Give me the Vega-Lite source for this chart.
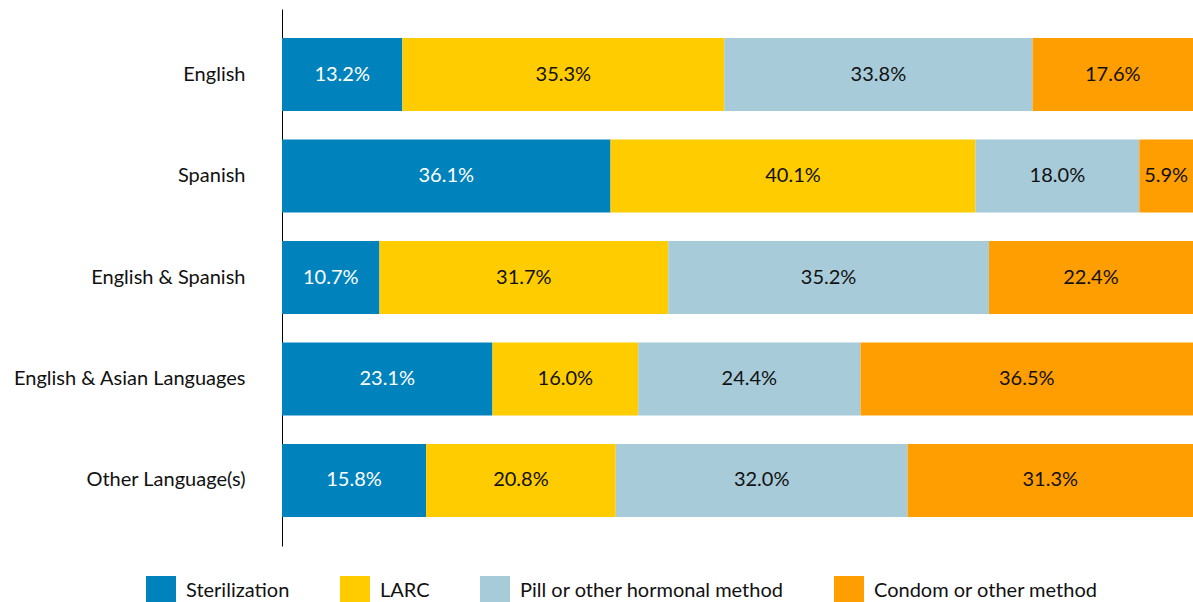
{
  "$schema": "https://vega.github.io/schema/vega-lite/v6.json",
  "width": 911,
  "height": 537,
  "autosize": {"type": "none"},
  "padding": {"left": 282, "top": 9, "right": 0, "bottom": 56},
  "background": "white",
  "config": {"view": {"stroke": null}, "font": "Lato"},
  "data": {"values": [
    {"lang": "English", "method": "Sterilization", "pct": 13.2},
    {"lang": "English", "method": "LARC", "pct": 35.3},
    {"lang": "English", "method": "Pill or other hormonal method", "pct": 33.8},
    {"lang": "English", "method": "Condom or other method", "pct": 17.6},
    {"lang": "Spanish", "method": "Sterilization", "pct": 36.1},
    {"lang": "Spanish", "method": "LARC", "pct": 40.1},
    {"lang": "Spanish", "method": "Pill or other hormonal method", "pct": 18.0},
    {"lang": "Spanish", "method": "Condom or other method", "pct": 5.9},
    {"lang": "English & Spanish", "method": "Sterilization", "pct": 10.7},
    {"lang": "English & Spanish", "method": "LARC", "pct": 31.7},
    {"lang": "English & Spanish", "method": "Pill or other hormonal method", "pct": 35.2},
    {"lang": "English & Spanish", "method": "Condom or other method", "pct": 22.4},
    {"lang": "English & Asian Languages", "method": "Sterilization", "pct": 23.1},
    {"lang": "English & Asian Languages", "method": "LARC", "pct": 16.0},
    {"lang": "English & Asian Languages", "method": "Pill or other hormonal method", "pct": 24.4},
    {"lang": "English & Asian Languages", "method": "Condom or other method", "pct": 36.5},
    {"lang": "Other Language(s)", "method": "Sterilization", "pct": 15.8},
    {"lang": "Other Language(s)", "method": "LARC", "pct": 20.8},
    {"lang": "Other Language(s)", "method": "Pill or other hormonal method", "pct": 32.0},
    {"lang": "Other Language(s)", "method": "Condom or other method", "pct": 31.3}
  ]},
  "transform": [
    {"calculate": "indexof(['Sterilization','LARC','Pill or other hormonal method','Condom or other method'], datum.method)", "as": "ord"},
    {"stack": "pct", "groupby": ["lang"], "sort": [{"field": "ord", "order": "ascending"}], "offset": "normalize", "as": ["x0", "x1"]},
    {"calculate": "(datum.x0 + datum.x1) / 2", "as": "mid"},
    {"calculate": "format(datum.pct, '.1f') + '%'", "as": "lbl"}
  ],
  "encoding": {
    "y": {
      "field": "lang", "type": "nominal",
      "sort": ["English", "Spanish", "English & Spanish", "English & Asian Languages", "Other Language(s)"],
      "scale": {"paddingInner": 0.28, "paddingOuter": 0.286},
      "axis": {"title": null, "ticks": false, "domainColor": "black", "domainWidth": 1, "labelFontSize": 20, "labelColor": "#111", "labelPadding": 37, "labelFont": "Lato", "labelLimit": 300}
    }
  },
  "layer": [
    {
      "mark": {"type": "bar"},
      "encoding": {
        "x": {"field": "x0", "type": "quantitative", "scale": {"domain": [0, 1], "nice": false}, "axis": null},
        "x2": {"field": "x1"},
        "color": {
          "field": "method", "type": "nominal",
          "scale": {"domain": ["Sterilization", "LARC", "Pill or other hormonal method", "Condom or other method"], "range": ["#0083BD", "#FFCC00", "#A8CBDA", "#FF9E00"]},
          "legend": {"title": null, "orient": "none", "legendX": -136, "legendY": 567, "direction": "horizontal", "symbolType": "square", "symbolSize": 900, "symbolStrokeWidth": 0, "symbolOpacity": 1, "labelFontSize": 20, "labelColor": "#111", "labelFont": "Lato", "columnPadding": 50, "labelOffset": 10, "labelLimit": 400}
        }
      }
    },
    {
      "mark": {"type": "text", "fontSize": 20, "font": "Lato"},
      "encoding": {
        "x": {"field": "mid", "type": "quantitative"},
        "text": {"field": "lbl"},
        "color": {
          "condition": {"test": "datum.method === 'Sterilization'", "value": "white"},
          "value": "#111"
        }
      }
    }
  ]
}
